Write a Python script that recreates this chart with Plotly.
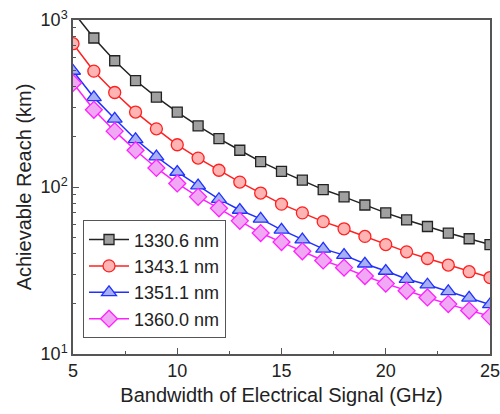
import plotly.graph_objects as go

bandwidth = list(range(5, 26))
labels = ["1330.6 nm", "1343.1 nm", "1351.1 nm", "1360.0 nm"]
reach_1330 = [1120, 780, 570, 434, 345, 281, 232, 195, 166, 142, 124, 110, 96.5, 87.3, 78, 70, 63.5, 58, 53, 49, 45.2]
reach_1343 = [721, 494, 368, 281, 223, 179, 149, 126, 107, 92, 79, 70, 62, 56.2, 50.6, 45.2, 40.9, 37.3, 34.1, 31.1, 28.7]
reach_1351 = [495, 344, 256, 193, 152, 123, 102, 84.5, 72.8, 64.4, 55.4, 48.4, 42.6, 39.1, 34.7, 31.4, 28.1, 26, 23.7, 21.7, 19.8]
reach_1360 = [420, 290, 216, 166, 130, 105, 87.3, 74.5, 62.7, 53, 46.8, 41.2, 36.3, 32.9, 29.3, 26.4, 23.9, 21.8, 19.9, 18.2, 16.8]

series = [reach_1330, reach_1343, reach_1351, reach_1360]
line_colors = ["#222222", "#ff2020", "#2030ff", "#ff20ff"]
fill_colors = ["#a0a0a0", "#ffb4b4", "#a8b0f4", "#f0a8f4"]
symbols = ["square", "circle", "triangle-up", "diamond"]
sizes = [10, 12, 13, 13]

fig = go.Figure()
for name, ys, lc, fc, sym, sz in zip(labels, series, line_colors, fill_colors, symbols, sizes):
    fig.add_trace(go.Scatter(
        x=bandwidth, y=ys, name=name, mode="lines+markers",
        line=dict(color=lc, width=1.5),
        marker=dict(symbol=sym, size=sz, color=fc, line=dict(color=lc, width=1.3)),
    ))

font = "Liberation Sans, Arial, sans-serif"
axcol = "#555555"
fig.update_layout(
    width=500, height=414,
    margin=dict(l=73, r=8, t=16, b=60),
    paper_bgcolor="white", plot_bgcolor="white",
    font=dict(family=font, size=18, color="#222222"),
    showlegend=True,
    legend=dict(x=0.024, y=0.047, xanchor="left", yanchor="bottom",
                bordercolor=axcol, borderwidth=1, bgcolor="white",
                font=dict(size=18), tracegroupgap=0, itemwidth=40),
)
fig.update_xaxes(
    range=[5, 25], title=dict(text="Bandwidth of Electrical Signal (GHz)", font=dict(size=20), standoff=8),
    tickvals=[5, 10, 15, 20, 25], ticks="inside", ticklen=6, tickwidth=1.2, tickcolor=axcol,
    automargin=False, ticklabeloverflow="allow",
    showline=True, linecolor=axcol, linewidth=1.5, mirror=True, showgrid=False, zeroline=False,
    minor=dict(tickvals=[7.5, 12.5, 17.5, 22.5], ticks="inside", ticklen=3, tickcolor=axcol, showgrid=False),
)
fig.update_yaxes(
    type="log", range=[1, 3], title=dict(text="Achievable Reach (km)", font=dict(size=20), standoff=4),
    tickvals=[10, 100, 1000], ticktext=["10<sup>1</sup>", "10<sup>2</sup>", "10<sup>3</sup>"],
    ticks="inside", ticklen=6, tickwidth=1.2, tickcolor=axcol,
    showline=True, linecolor=axcol, linewidth=1.5, mirror=True, showgrid=False, zeroline=False,
    minor=dict(tickvals=[20, 30, 40, 50, 60, 70, 80, 90, 200, 300, 400, 500, 600, 700, 800, 900],
               ticks="inside", ticklen=3, tickcolor=axcol, showgrid=False),
)
fig.write_html("out.html")
